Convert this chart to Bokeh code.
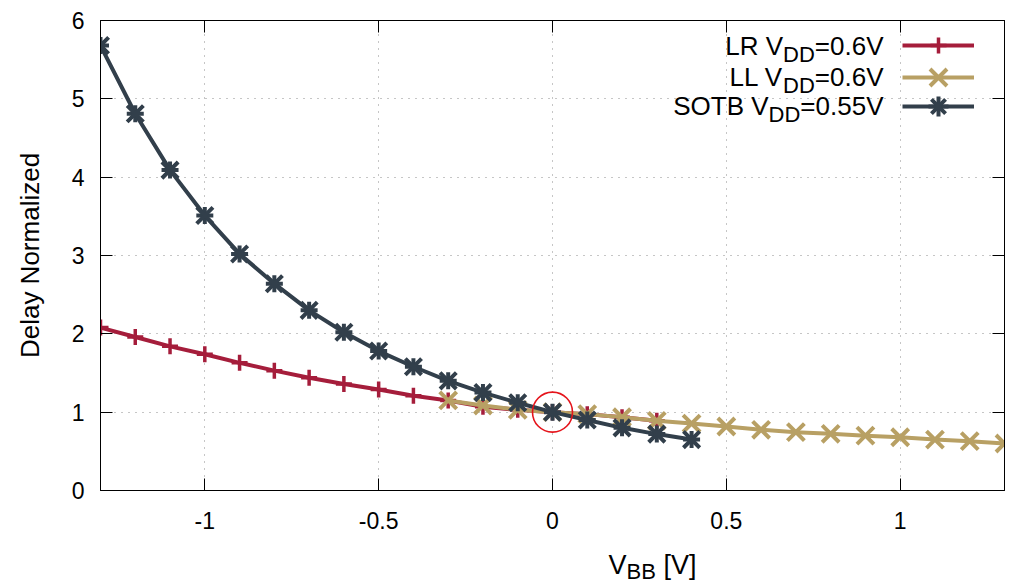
from bokeh.plotting import figure
from bokeh.layouts import column
from bokeh.models import (Range1d, FixedTicker, LinearAxis, Label, Legend, LegendItem,
                          CustomLabelingPolicy)
from bokeh.core.properties import value
from bokeh.embed import file_html
from bokeh.resources import INLINE

# ---------------- data ----------------
vbb_lr = [-1.3, -1.2, -1.1, -1.0, -0.9, -0.8, -0.7, -0.6, -0.5, -0.4, -0.3, -0.2, -0.1, 0.0, 0.1, 0.2, 0.3]
delay_lr = [2.08, 1.96, 1.84, 1.74, 1.63, 1.53, 1.44, 1.36, 1.29, 1.21, 1.15, 1.07, 1.03, 1.00, 0.975, 0.935, 0.89]

vbb_ll = [-0.3, -0.2, -0.1, 0.0, 0.1, 0.2, 0.3, 0.4, 0.5, 0.6, 0.7, 0.8, 0.9, 1.0, 1.1, 1.2, 1.3]
delay_ll = [1.15, 1.085, 1.03, 1.00, 0.975, 0.935, 0.89, 0.855, 0.817, 0.775, 0.745, 0.724, 0.70, 0.68, 0.65, 0.63, 0.60]

vbb_sotb = [-1.3, -1.2, -1.1, -1.0, -0.9, -0.8, -0.7, -0.6, -0.5, -0.4, -0.3, -0.2, -0.1, 0.0, 0.1, 0.2, 0.3, 0.4]
delay_sotb = [5.68, 4.81, 4.09, 3.51, 3.02, 2.64, 2.30, 2.02, 1.78, 1.58, 1.40, 1.25, 1.12, 1.00, 0.90, 0.80, 0.72, 0.65]

highlight_x = [0.0]
highlight_y = [1.0]

legend_parts = [("LR V", "DD", "=0.6V"), ("LL V", "DD", "=0.6V"), ("SOTB V", "DD", "=0.55V")]
x_label_parts = ("V", "BB", " [V]")
y_label = "Delay Normalized"
x_ticks = [-1, -0.5, 0, 0.5, 1]
x_tick_labels = ["-1", "-0.5", "0", "0.5", "1"]
y_ticks = [0, 1, 2, 3, 4, 5, 6]

# ---------------- style ----------------
FONT = "Liberation Sans"
C_LR = "#A51D3B"
C_LL = "#B8A064"
C_SOTB = "#323F4B"

FW, FH = 904, 470
BL, BR, BT, BB = 100, 9, 20, 50
p = figure(frame_width=FW, frame_height=FH, output_backend="svg", toolbar_location=None,
           x_range=Range1d(-1.3, 1.3), y_range=Range1d(0, 6),
           min_border_left=BL, min_border_right=BR, min_border_top=BT, min_border_bottom=BB)
p.background_fill_color = "white"
p.border_fill_color = "white"
p.outline_line_color = "black"
p.outline_line_width = 1

xt = FixedTicker(ticks=x_ticks)
yt = FixedTicker(ticks=y_ticks)

for ax in (p.xaxis[0], p.yaxis[0]):
    ax.major_tick_in = 12
    ax.major_tick_out = 0
    ax.minor_tick_in = 0
    ax.minor_tick_out = 0
    ax.axis_line_color = "black"
    ax.major_tick_line_color = "black"
    ax.major_label_text_font = FONT
    ax.major_label_text_font_size = "23px"
    ax.major_label_text_color = "black"

p.xaxis[0].ticker = xt
p.xaxis[0].major_label_overrides = {t: s for t, s in zip(x_ticks, x_tick_labels)}
p.xaxis[0].major_label_standoff = 21
p.yaxis[0].ticker = yt
p.yaxis[0].major_label_standoff = 16
p.yaxis[0].axis_label = y_label
p.yaxis[0].axis_label_text_font = FONT
p.yaxis[0].axis_label_text_font_size = "26px"
p.yaxis[0].axis_label_text_font_style = "normal"
p.yaxis[0].axis_label_text_color = "black"
p.yaxis[0].axis_label_standoff = 24

# mirrored ticks (no labels)
for ticker, side in ((yt, "right"), (xt, "above")):
    ax = LinearAxis(ticker=ticker, major_tick_in=12, major_tick_out=0, minor_tick_in=0, minor_tick_out=0,
                    major_label_text_font_size="0px", major_label_standoff=0,
                    major_label_policy=CustomLabelingPolicy(code="return new Set()"),
                    axis_line_color="black", major_tick_line_color="black")
    p.add_layout(ax, side)

p.xgrid.ticker = xt
p.ygrid.ticker = yt
for g in (p.xgrid[0], p.ygrid[0]):
    g.grid_line_color = "#8c8c8c"
    g.grid_line_dash = "1 6"
    g.grid_line_width = 1

# ---------------- series ----------------
l_lr = p.line(vbb_lr, delay_lr, line_color=C_LR, line_width=4)
s_lr = p.scatter(vbb_lr, delay_lr, marker="cross", size=16, line_color=C_LR, line_width=3.5)
l_ll = p.line(vbb_ll, delay_ll, line_color=C_LL, line_width=4)
s_ll = p.scatter(vbb_ll, delay_ll, marker="x", size=24, line_color=C_LL, line_width=4)
l_so = p.line(vbb_sotb, delay_sotb, line_color=C_SOTB, line_width=4)
s_so1 = p.scatter(vbb_sotb, delay_sotb, marker="cross", size=17, line_color=C_SOTB, line_width=4)
s_so2 = p.scatter(vbb_sotb, delay_sotb, marker="x", size=23, line_color=C_SOTB, line_width=4)

p.scatter(highlight_x, highlight_y, marker="circle", size=40, fill_alpha=0,
          line_color="#E5141B", line_width=1.6)

# ---------------- legend ----------------
ARIAL_W = {' ': 278, '[': 278, ']': 278, '=': 584, '.': 278, 'B': 667, 'D': 722, 'L': 556,
           'O': 778, 'R': 722, 'S': 667, 'T': 611, 'V': 667}
for d in "0123456789":
    ARIAL_W[d] = 556

def tw(s, size):
    return sum(ARIAL_W.get(c, 556) for c in s) * size / 1000.0

row_center = [445, 413.5, 384]      # frame px from bottom (sample line)
row_text = [444.2, 413.7, 384.5]    # frame px from bottom (text centre)
text_right = 783
sample_left = 801.7
glyph_h = [40, 60, 50]
M, SUB = 26, 22
groups = ((l_lr, s_lr), (l_ll, s_ll), (l_so, s_so1, s_so2))
for i, rends in enumerate(groups):
    leg = Legend(items=[LegendItem(label=value(""), renderers=list(rends))],
                 location=(sample_left, row_center[i] - glyph_h[i] / 2),
                 glyph_width=72, glyph_height=glyph_h[i], padding=0, margin=0, spacing=0,
                 label_width=0, label_height=0, label_standoff=0, label_text_font_size="0px",
                 border_line_alpha=0, background_fill_alpha=0)
    p.add_layout(leg)
    main, sub, rest = legend_parts[i]
    xr = text_right
    p.add_layout(Label(x=xr, y=row_text[i], x_units="screen", y_units="screen", text=rest,
                       text_align="right", text_baseline="alphabetic", text_font=FONT,
                       text_font_size=f"{M}px", text_color="black"))
    xr -= tw(rest, M)
    p.add_layout(Label(x=xr, y=row_text[i] - 8.5, x_units="screen", y_units="screen", text=sub,
                       text_align="right", text_baseline="alphabetic", text_font=FONT,
                       text_font_size=f"{SUB}px", text_color="black"))
    xr -= tw(sub, SUB)
    p.add_layout(Label(x=xr, y=row_text[i], x_units="screen", y_units="screen", text=main,
                       text_align="right", text_baseline="alphabetic", text_font=FONT,
                       text_font_size=f"{M}px", text_color="black"))

# ---------------- x axis label with subscript (own strip below) ----------------
H2 = 46
p2 = figure(width=BL + FW + BR, height=H2, output_backend="svg", toolbar_location=None,
            x_range=Range1d(0, 1), y_range=Range1d(0, 1), x_axis_type=None, y_axis_type=None,
            min_border=0)
p2.outline_line_color = None
p2.background_fill_color = "white"
p2.border_fill_color = "white"
XM, XS = 27, 22
sizes = (XM, XS, XM)
widths = [tw(t, s) for t, s in zip(x_label_parts, sizes)]
x0 = BL + FW / 2 - sum(widths) / 2
for part, w, fs, yy in zip(x_label_parts, widths, sizes, (21.5, 14.7, 21.5)):
    stripped = part.lstrip()
    lead = tw(part[:len(part) - len(stripped)], fs)
    p2.add_layout(Label(x=x0 + lead, y=yy, x_units="screen", y_units="screen", text=stripped,
                        text_align="left", text_baseline="alphabetic", text_font=FONT,
                        text_font_size=f"{fs}px", text_color="black"))
    x0 += w

layout = column(p, p2, spacing=0)
open("out.html", "w").write(file_html(layout, INLINE))
